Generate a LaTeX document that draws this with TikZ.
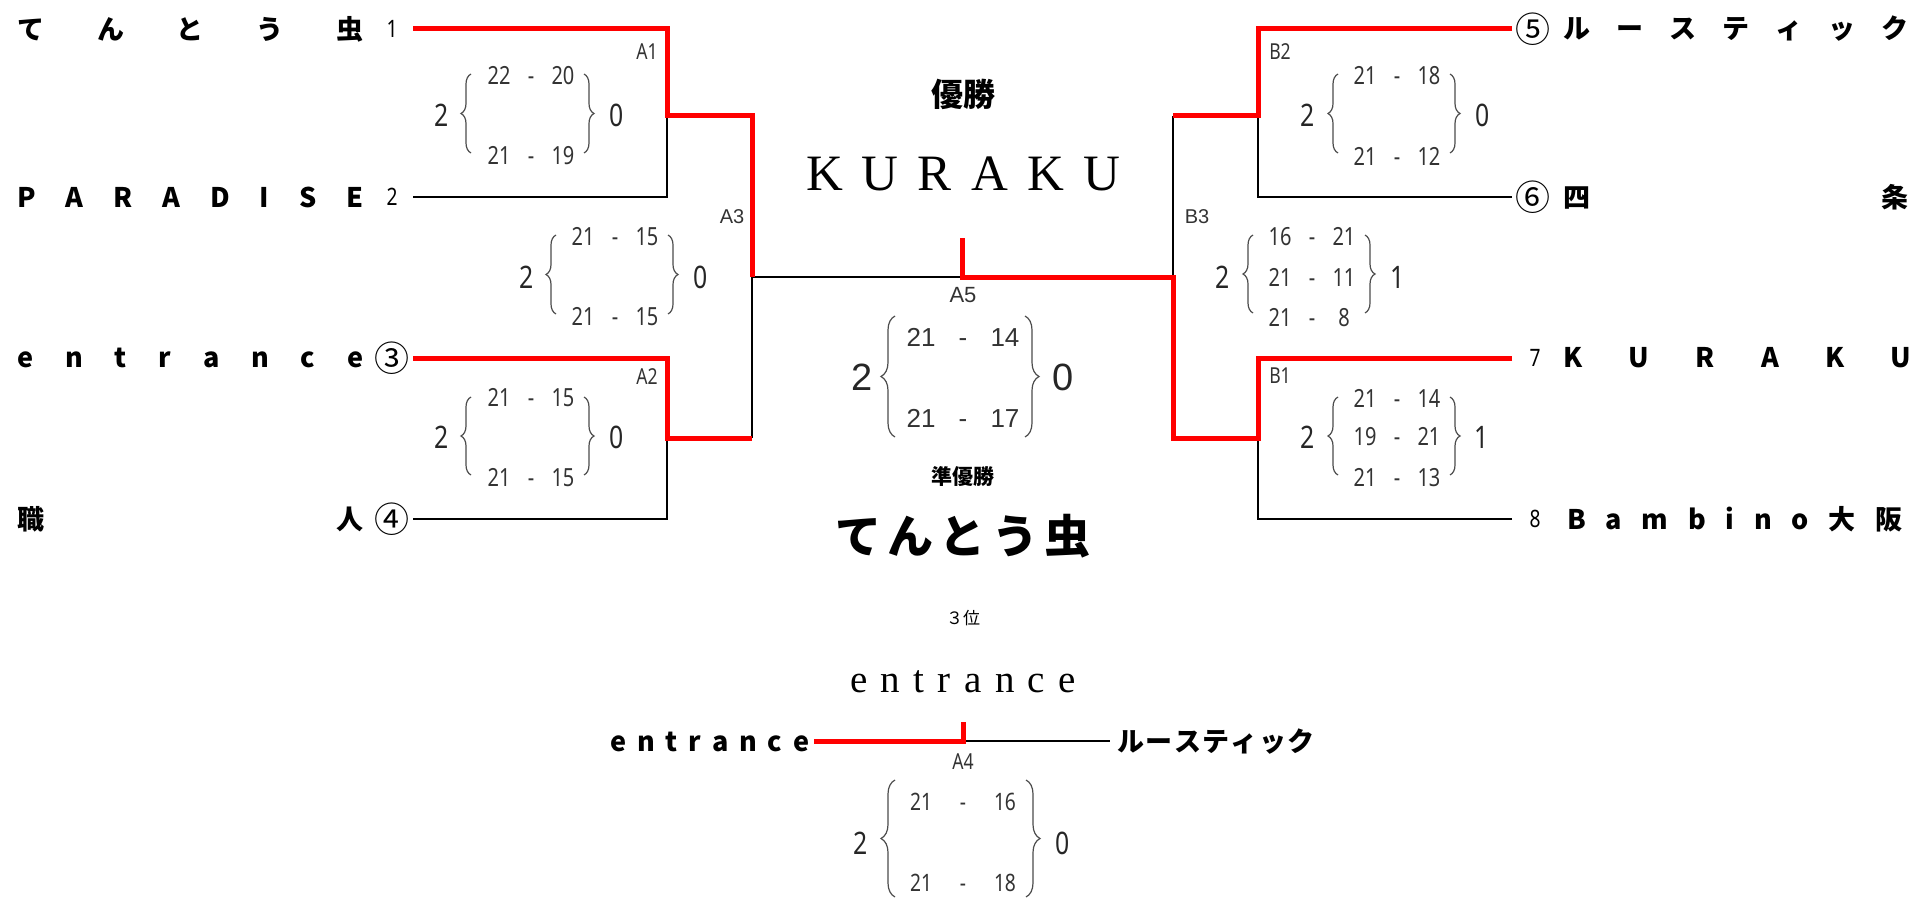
\documentclass[tikz,border=0pt]{standalone}
\usepackage{fontspec}
\usetikzlibrary{decorations.pathreplacing}
\newfontfamily\jp{Noto Sans CJK JP}
\newfontfamily\cond[FakeStretch=0.8]{Noto Sans}
\newfontfamily\ari{Liberation Sans}
\newfontfamily\ser{Liberation Serif}
\newcommand\spread[2]{\makebox[#1][s]{#2}}
\newcommand\srow[2]{\makebox[16pt]{#1}\makebox[16pt]{-}\makebox[16pt]{#2}}
\newcommand\Srow[2]{\makebox[21pt]{#1}\makebox[21pt]{-}\makebox[21pt]{#2}}
\begin{document}
\begin{tikzpicture}[x=0.5pt,y=-0.5pt,
 teamname/.style={inner sep=0pt, anchor=west, font=\jp\bfseries\fontsize{13.5}{14}\selectfont},
 seednum/.style={inner sep=0pt, font=\cond\fontsize{12}{13}\selectfont},
 cseed/.style={inner sep=0pt, font=\jp\fontsize{17.5}{18}\selectfont},
 sc/.style={inner sep=0pt, text=black!80, font=\cond\fontsize{12.5}{13}\selectfont},
 tot/.style={inner sep=0pt, text=black!85, font=\cond\fontsize{15.5}{16}\selectfont},
 bsc/.style={inner sep=0pt, text=black!80, font=\ari\fontsize{13}{14}\selectfont},
 btot/.style={inner sep=0pt, text=black!85, font=\ari\fontsize{19}{20}\selectfont},
 csc/.style={inner sep=0pt, text=black!80, font=\cond\fontsize{12}{13}\selectfont},
 mlab/.style={inner sep=0pt, text=black!80, font=\cond\fontsize{11}{12}\selectfont},
 alab/.style={inner sep=0pt, text=black!80, font=\ari\fontsize{10}{11}\selectfont},
 brc/.style={decorate, decoration={brace, amplitude=5pt}, draw=black!70, line width=0.6pt},
 bbrc/.style={decorate, decoration={brace, amplitude=7pt}, draw=black!70, line width=0.6pt},
 win/.style={draw=red, line width=2.5pt, line join=miter},
 lose/.style={draw=black, line width=1pt},
 ctitle/.style={inner sep=0pt},
]
\useasboundingbox (0,0) rectangle (1932,899);

% ---------- team names ----------
\node[teamname] (n1) at (17,29) {\spread{173pt}{て\hfill ん\hfill と\hfill う\hfill 虫}};
\node[teamname] (n2) at (17,197) {\spread{173pt}{P\hfill A\hfill R\hfill A\hfill D\hfill I\hfill S\hfill E}};
\node[teamname] (n3) at (17,358) {\spread{173pt}{e\hfill n\hfill t\hfill r\hfill a\hfill n\hfill c\hfill e}};
\node[teamname] (n4) at (17,519) {\spread{173pt}{職\hfill 人}};
\node[teamname] (n5) at (1563,29) {\spread{172.5pt}{ル\hfill ー\hfill ス\hfill テ\hfill ィ\hfill ッ\hfill ク}};
\node[teamname] (n6) at (1563,197) {\spread{172.5pt}{四\hfill 条}};
\node[teamname] (n7) at (1563,358) {\spread{174pt}{K\hfill U\hfill R\hfill A\hfill K\hfill U}};
\node[teamname] (n8) at (1567,519) {\spread{167.5pt}{B\hfill a\hfill m\hfill b\hfill i\hfill n\hfill o\hfill 大\hfill 阪}};

% ---------- seeds ----------
\node[seednum] (s1) at (392,29) {1};
\node[seednum] (s2) at (392,197) {2};
\node[cseed] (s3) at (392,358) {③};
\node[cseed] (s4) at (392,519) {④};
\node[cseed] (s5) at (1533,29) {⑤};
\node[cseed] (s6) at (1533,197) {⑥};
\node[seednum] (s7) at (1535,358) {7};
\node[seednum] (s8) at (1535,519) {8};

% ---------- bracket points ----------
\coordinate (L1) at (413,29);
\coordinate (L2) at (413,197);
\coordinate (L3) at (413,358);
\coordinate (L4) at (413,519);
\coordinate (R5) at (1512,29);
\coordinate (R6) at (1512,197);
\coordinate (R7) at (1512,358);
\coordinate (R8) at (1512,519);
\coordinate (A1) at (667,116);
\coordinate (A2) at (667,438);
\coordinate (A3) at (752,277);
\coordinate (F) at (962,277);
\coordinate (Ftop) at (962,238);
\coordinate (B3) at (1173,277);
\coordinate (B2) at (1258,116);
\coordinate (B1) at (1258,438);

% losers (black)
\draw[lose] (L2) -| (A1);
\draw[lose] (L4) -| (A2);
\draw[lose] (A2 -| A3) -- (A3);
\draw[lose] (A3) -- (F);
\draw[lose] (R6) -| (B2);
\draw[lose] (R8) -| (B1);
\draw[lose] (B2 -| B3) -- (B3);

% winners (red)
\draw[win] (L1) -| (A1) -| (A3);
\draw[win] (L3) -| (A2) -- (A2 -| A3);
\draw[win] (R5) -| (B2) -- (B2 -| B3);
\draw[win] (R7) -| (B1) -| (B3) -- (F) -- (Ftop);

% ---------- match labels ----------
\node[mlab] (lA1) at (647,52) {A1};
\node[mlab] (lA2) at (647,377) {A2};
\node[alab] (lA3) at (732,217) {A3};
\node[alab, font=\ari\fontsize{11}{12}\selectfont] (lA5) at (963,295) {A5};
\node[mlab] (lB2) at (1280,52) {B2};
\node[mlab] (lB1) at (1280,376) {B1};
\node[alab] (lB3) at (1197,217) {B3};
\node[mlab] (lA4) at (963,762) {A4};

% ---------- scores A1 ----------
\node[tot] (a1w) at (442,115) {2};
\node[sc] (a1r1) at (531,76) {\srow{22}{20}};
\node[sc] (a1r2) at (531,156) {\srow{21}{19}};
\node[tot] (a1l) at (617,115) {0};
\draw[brc] (471,153) -- (471,74);
\draw[brc] (584,74) -- (584,153);

% ---------- scores A3 ----------
\node[tot] (a3w) at (527,277) {2};
\node[sc] (a3r1) at (615,237) {\srow{21}{15}};
\node[sc] (a3r2) at (615,317) {\srow{21}{15}};
\node[tot] (a3l) at (701,277) {0};
\draw[brc] (556,314) -- (556,235);
\draw[brc] (668,235) -- (668,314);

% ---------- scores A2 ----------
\node[tot] (a2w) at (442,437) {2};
\node[sc] (a2r1) at (531,398) {\srow{21}{15}};
\node[sc] (a2r2) at (531,478) {\srow{21}{15}};
\node[tot] (a2l) at (617,437) {0};
\draw[brc] (471,475) -- (471,397);
\draw[brc] (584,397) -- (584,475);

% ---------- scores B2 ----------
\node[tot] (b2w) at (1308,115) {2};
\node[sc] (b2r1) at (1397,76) {\srow{21}{18}};
\node[sc] (b2r2) at (1397,156) {\srow{21}{12}};
\node[tot] (b2l) at (1483,115) {0};
\draw[brc] (1338,153) -- (1338,74);
\draw[brc] (1450,74) -- (1450,153);

% ---------- scores B3 ----------
\node[tot] (b3w) at (1223,277) {2};
\node[sc] (b3r1) at (1312,237) {\srow{16}{21}};
\node[sc] (b3r2) at (1312,277) {\srow{21}{11}};
\node[sc] (b3r3) at (1312,318) {\srow{21}{8}};
\node[tot] (b3l) at (1398,277) {1};
\draw[brc] (1253,313) -- (1253,235);
\draw[brc] (1365,235) -- (1365,313);

% ---------- scores B1 ----------
\node[tot] (b1w) at (1308,437) {2};
\node[sc] (b1r1) at (1397,398) {\srow{21}{14}};
\node[sc] (b1r2) at (1397,437) {\srow{19}{21}};
\node[sc] (b1r3) at (1397,478) {\srow{21}{13}};
\node[tot] (b1l) at (1482,437) {1};
\draw[brc] (1338,475) -- (1338,397);
\draw[brc] (1450,397) -- (1450,475);

% ---------- final A5 ----------
\node[btot] (a5w) at (862,377) {2};
\node[bsc] (a5r1) at (963,337) {\Srow{21}{14}};
\node[bsc] (a5r2) at (963,418) {\Srow{21}{17}};
\node[btot] (a5l) at (1063,377) {0};
\draw[bbrc] (895,437) -- (895,316);
\draw[bbrc] (1025,316) -- (1025,437);

% ---------- centre titles ----------
\node[ctitle, font=\jp\bfseries\fontsize{16}{17}\selectfont] (t1) at (963,94) {優勝};
\node[ctitle, font=\ser\fontsize{25.5}{26}\selectfont] (t2) at (963,174) {\spread{157pt}{K\hfill U\hfill R\hfill A\hfill K\hfill U}};
\node[ctitle, font=\jp\bfseries\fontsize{10.5}{11}\selectfont] (t3) at (963,477) {準優勝};
\node[ctitle, font=\jp\bfseries\fontsize{23}{24}\selectfont] (t4) at (963,536) {\spread{127.5pt}{て\hfill ん\hfill と\hfill う\hfill 虫}};
\node[ctitle, font=\jp\fontsize{8.5}{9}\selectfont] (t5) at (963,618) {３位};
\node[ctitle, font=\ser\fontsize{19.5}{20}\selectfont] (t6) at (963,682) {\spread{113pt}{e\hfill n\hfill t\hfill r\hfill a\hfill n\hfill c\hfill e}};

% ---------- third place A4 ----------
\node[teamname] (be) at (610,742) {\spread{99.5pt}{e\hfill n\hfill t\hfill r\hfill a\hfill n\hfill c\hfill e}};
\node[teamname] (br) at (1117,742) {\spread{98.5pt}{ル\hfill ー\hfill ス\hfill テ\hfill ィ\hfill ッ\hfill ク}};
\coordinate (E1) at (814,741);
\coordinate (C4) at (963,741);
\coordinate (C4top) at (963,722);
\coordinate (E2) at (1110,741);
\draw[lose] (C4) -- (E2);
\draw[win] (E1) -- (C4) -- (C4top);

\node[tot] (a4w) at (861,843) {2};
\node[csc] (a4r1) at (963,802) {\Srow{21}{16}};
\node[csc] (a4r2) at (963,883) {\Srow{21}{18}};
\node[tot] (a4l) at (1063,843) {0};
\draw[bbrc] (895,897) -- (895,780);
\draw[bbrc] (1026,780) -- (1026,897);
\end{tikzpicture}
\end{document}
